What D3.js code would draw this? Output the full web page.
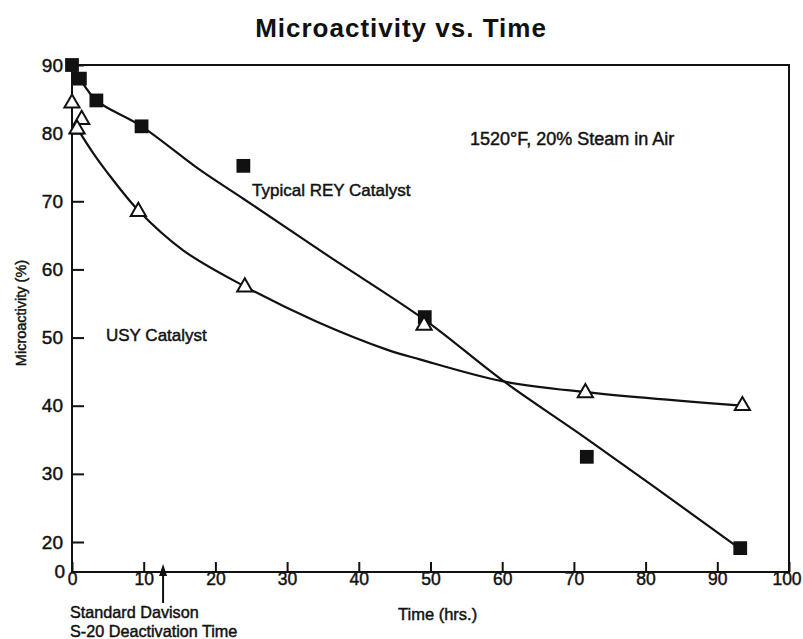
<!DOCTYPE html>
<html>
<head>
<meta charset="utf-8">
<script src="https://cdn.jsdelivr.net/npm/d3@7"></script>
<style>
  html, body { margin: 0; padding: 0; background: #fff; }
  svg { display: block; font-family: "Liberation Sans", Arial, Helvetica, sans-serif; }
  .lbl { stroke: #111; stroke-width: 0.45px; }
</style>
</head>
<body>
<svg id="chart" width="803" height="639"></svg>
<script>
// ---- data ----
const xTicks = [0, 10, 20, 30, 40, 50, 60, 70, 80, 90, 100];
const yTicks = [20, 30, 40, 50, 60, 70, 80, 90];

// Typical REY catalyst (filled squares)
const reyTime     = [0, 1.1, 3.4, 9.7, 23.9, 49.2, 71.8, 93.2];
const reyActivity = [90, 88.0, 84.8, 81.0, 75.2, 53.0, 32.5, 19.1];
// USY catalyst (open triangles)
const usyTime     = [0, 1.35, 0.7, 9.25, 24.1, 49.1, 71.6, 93.5];
const usyActivity = [84.4, 82.0, 80.6, 68.5, 57.4, 51.8, 41.9, 40.0];

// hand-drawn fitted curves
const reyFitTime     = [0, 1.1, 3.4, 9.7, 17.85, 24, 36, 49.2, 60.2, 72, 92.8];
const reyFitActivity = [90, 88, 84.8, 81, 74.6, 70.3, 61.8, 52.6, 43.6, 35.0, 19.3];
const usyFitTime     = [0.8, 3, 4.8, 9.3, 15.5, 24.1, 34, 44, 48.5, 60, 71.6, 93.5];
const usyFitActivity = [80.6, 77.0, 74.4, 68.6, 62.8, 57.5, 52.4, 48.2, 46.8, 43.6, 42.0, 40.0];

const s20Time = 12.7; // Standard Davison S-20 deactivation time marker

// ---- layout ----
const svg = d3.select("#chart");
const pLeft = 72, pRight = 789, pTop = 65, pBottom = 572;
const ink = "#111";

const x = d3.scaleLinear().domain([0, 100]).range([pLeft, pRight]);
const y = d3.scaleLinear().domain([20, 90]).range([542, pTop]);

// title
svg.append("text")
  .attr("x", 401).attr("y", 37)
  .attr("text-anchor", "middle")
  .attr("font-size", 26).attr("font-weight", "bold")
  .attr("letter-spacing", 1)
  .attr("fill", ink)
  .text("Microactivity vs. Time");

// frame
svg.append("rect")
  .attr("x", pLeft).attr("y", pTop)
  .attr("width", pRight - pLeft).attr("height", pBottom - pTop)
  .attr("fill", "none").attr("stroke", ink).attr("stroke-width", 2);

// x axis
const gx = svg.append("g")
  .attr("transform", `translate(0,${pBottom})`)
  .call(d3.axisBottom(x).tickValues(xTicks).tickSize(-10).tickPadding(1).tickFormat(d3.format("d")));
gx.select(".domain").remove();
gx.selectAll(".tick line").attr("stroke", ink).attr("stroke-width", 2);
gx.selectAll(".tick text").attr("font-size", 17.5).attr("fill", ink).attr("class", "lbl")
  .attr("font-family", "'Liberation Sans', Arial, sans-serif")
  .attr("dx", d => d === 100 ? -2.5 : 0);

// y axis
const gy = svg.append("g")
  .attr("transform", `translate(${pLeft},0)`)
  .call(d3.axisLeft(y).tickValues(yTicks).tickSize(-12).tickPadding(9).tickFormat(d3.format("d")));
gy.select(".domain").remove();
gy.selectAll(".tick line").attr("stroke", ink).attr("stroke-width", 2);
gy.selectAll(".tick text").attr("font-size", 19).attr("fill", ink).attr("class", "lbl")
  .attr("font-family", "'Liberation Sans', Arial, sans-serif");

// "0" label at the broken axis base
svg.append("text").attr("class", "lbl")
  .attr("x", pLeft - 7).attr("y", pBottom).attr("dy", "0.34em")
  .attr("text-anchor", "end").attr("font-size", 19).attr("fill", ink)
  .text("0");

// y axis title
svg.append("text").attr("class", "lbl")
  .attr("transform", `translate(26,313) rotate(-90)`)
  .attr("text-anchor", "middle")
  .attr("font-size", 14.5).attr("fill", ink)
  .text("Microactivity (%)");

// x axis title
svg.append("text").attr("class", "lbl")
  .attr("x", 398).attr("y", 620)
  .attr("font-size", 16.5).attr("fill", ink)
  .text("Time (hrs.)");

// S-20 arrow + label
const ax = x(s20Time);
svg.append("line")
  .attr("x1", ax).attr("x2", ax).attr("y1", 603).attr("y2", 572)
  .attr("stroke", ink).attr("stroke-width", 2);
svg.append("path")
  .attr("d", `M${ax},564 L${ax - 4},576 L${ax + 4},576 Z`)
  .attr("fill", ink);
svg.append("text").attr("class", "lbl").attr("x", 70).attr("y", 618)
  .attr("font-size", 16.2).attr("fill", ink).text("Standard Davison");
svg.append("text").attr("class", "lbl").attr("x", 70).attr("y", 636.5)
  .attr("font-size", 16.2).attr("fill", ink).text("S-20 Deactivation Time");

// annotations
svg.append("text").attr("class", "lbl").attr("x", 470).attr("y", 145)
  .attr("font-size", 18).attr("fill", ink).text("1520\u00B0F, 20% Steam in Air");
svg.append("text").attr("class", "lbl").attr("x", 252).attr("y", 196)
  .attr("font-size", 17).attr("fill", ink).text("Typical REY Catalyst");
svg.append("text").attr("class", "lbl").attr("x", 106).attr("y", 341)
  .attr("font-size", 17).attr("fill", ink).text("USY Catalyst");

// fitted curves
const line = d3.line().x(d => x(d[0])).y(d => y(d[1])).curve(d3.curveCatmullRom.alpha(0.5));
const reyFit = reyFitTime.map((t, i) => [t, reyFitActivity[i]]);
const usyFit = usyFitTime.map((t, i) => [t, usyFitActivity[i]]);
svg.append("path").attr("d", line(reyFit))
  .attr("fill", "none").attr("stroke", ink).attr("stroke-width", 2.2);
svg.append("path").attr("d", line(usyFit))
  .attr("fill", "none").attr("stroke", ink).attr("stroke-width", 2.2);

// markers
const rey = reyTime.map((t, i) => [t, reyActivity[i]]);
const usy = usyTime.map((t, i) => [t, usyActivity[i]]);
svg.append("g").selectAll("path").data(rey).join("path")
  .attr("transform", d => `translate(${x(d[0])},${y(d[1])})`)
  .attr("d", d3.symbol(d3.symbolSquare, 190))
  .attr("fill", ink);
svg.append("g").selectAll("path").data(usy).join("path")
  .attr("transform", d => `translate(${x(d[0])},${y(d[1])})`)
  .attr("d", d3.symbol(d3.symbolTriangle, 100))
  .attr("fill", "#fff").attr("stroke", ink).attr("stroke-width", 2);
</script>
</body>
</html>
